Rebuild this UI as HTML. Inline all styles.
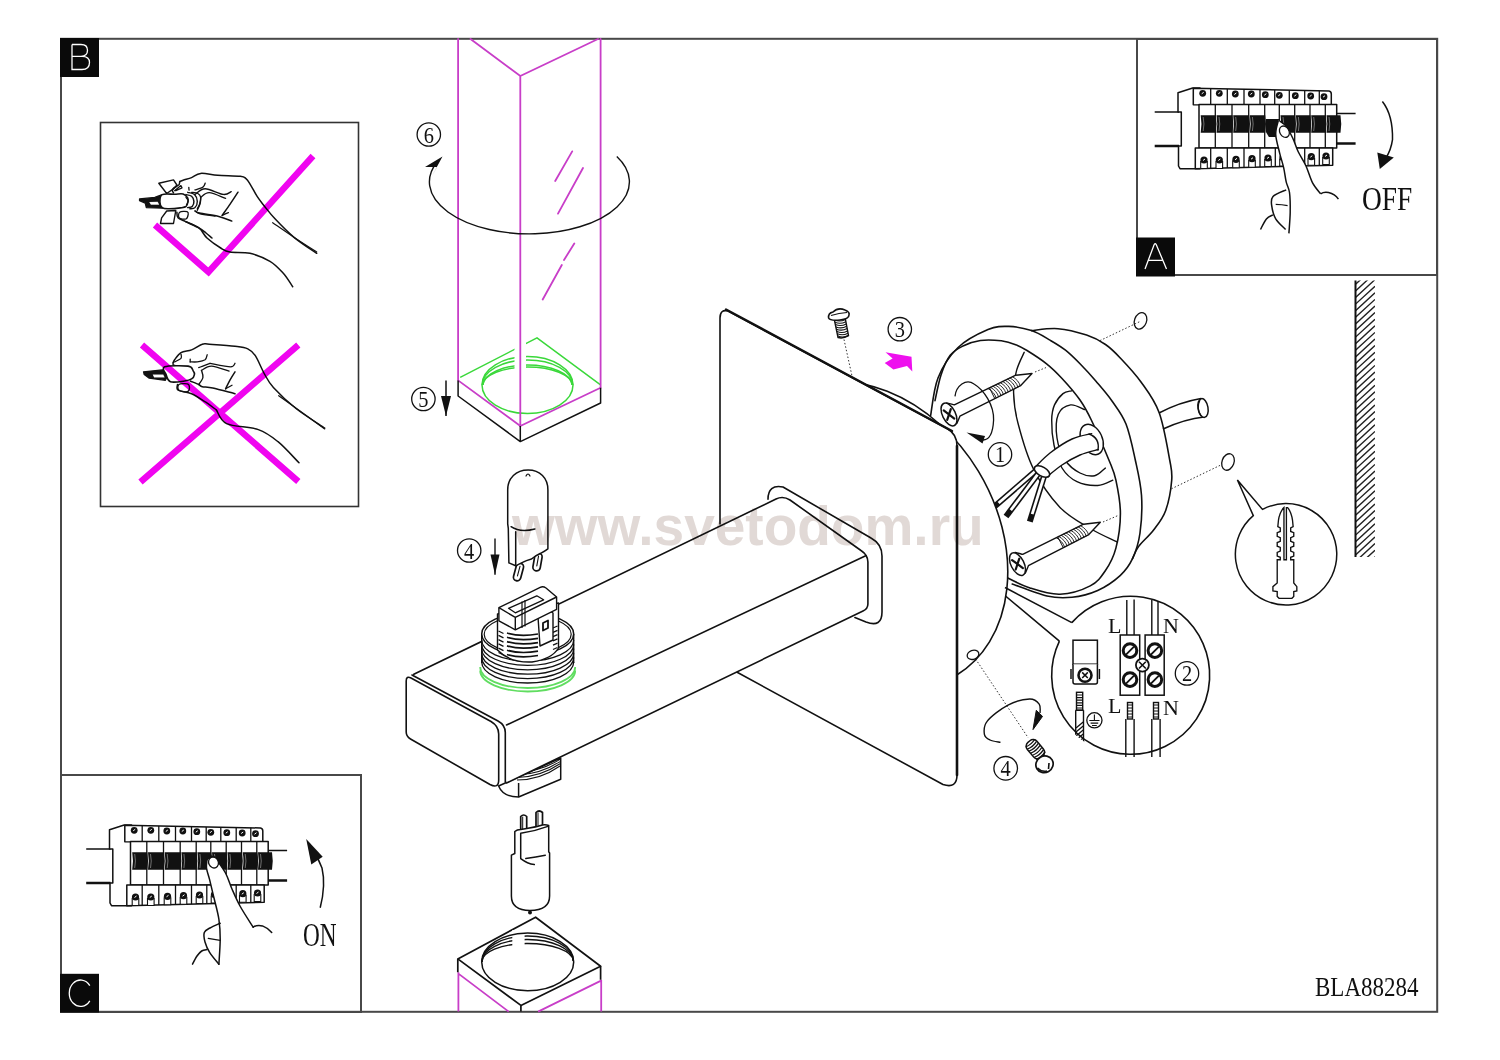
<!DOCTYPE html>
<html><head><meta charset="utf-8">
<style>
html,body{margin:0;padding:0;background:#fff;width:1500px;height:1060px;overflow:hidden}
svg{display:block;position:absolute;left:0;top:0}
text{font-family:"Liberation Serif",serif}
</style></head><body>
<svg width="1500" height="1060" viewBox="0 0 1500 1060">
<g fill="none" stroke="#484848" stroke-linecap="square" stroke-linejoin="miter">
<!-- outer frame -->
<rect x="61" y="38.8" width="1376.2" height="973" stroke-width="2"/>
<!-- box A -->
<rect x="1137" y="39" width="300" height="236" stroke-width="2"/>
<!-- box C -->
<rect x="61" y="775" width="300" height="237" stroke-width="2"/>
<!-- inner check box -->
<rect x="100.5" y="122.5" width="258" height="384" stroke-width="1.6" stroke="#333"/>
</g>

<!-- labels -->
<rect x="60" y="38" width="39" height="39" fill="#0a0a0a"/>
<path d="M72,44.5 V69.5 H82 Q89.5,69.5 89.5,62.5 Q89.5,56.3 82,56.3 H72 M72,44.5 H81 Q87.5,44.5 87.5,50.3 Q87.5,56.3 81,56.3" fill="none" stroke="#fff" stroke-width="1.3"/>
<rect x="1136" y="237.5" width="39" height="39" fill="#0a0a0a"/>
<path d="M1145,269 L1154.2,244.5 Q1155.2,243 1156.2,244.5 L1166.5,269 M1148.6,260.4 H1162.3" fill="none" stroke="#fff" stroke-width="1.3"/>
<rect x="60" y="973.8" width="39" height="38.7" fill="#0a0a0a"/>
<path d="M89.8,985.6 A11.3,13.2 0 1 0 89.8,1000.8" fill="none" stroke="#fff" stroke-width="1.3"/>

<!-- texts -->
<text x="1315" y="996" font-size="27.6" transform="translate(1315,0) scale(0.835,1) translate(-1315,0)" fill="#111">BLA88284</text>
<text x="1362" y="210" font-size="33" transform="translate(1362,0) scale(0.83,1) translate(-1362,0)" fill="#111">OFF</text>
<text x="303" y="946.5" font-size="34.7" transform="translate(303,0) scale(0.67,1) translate(-303,0)" fill="#111">ON</text>




<!-- glass tube top -->
<g fill="none" stroke="#3ad83a" stroke-width="1.5">
<path d="M460.2,377.3 L537,337.9 L600.2,384.6"/>
<ellipse cx="527.5" cy="385" rx="45.5" ry="28.5"/>
<path d="M482.3,385 A45.2,25 0 0 1 572.7,385"/>
<path d="M482.6,385 A45,21.5 0 0 1 572.4,385"/>
<path d="M483,385 A44.5,18 0 0 1 572,385"/>
</g>
<rect x="514.5" y="333" width="11.5" height="40" fill="#fff"/>
<g fill="none" stroke="#c83ec8" stroke-width="1.8" stroke-linecap="round">
<path d="M458.1,39 V380.4 L520.3,426 L600.6,387.7 V39"/>
<path d="M470.5,39 L520.3,76 L598,39 M520.3,76 V426"/>
<path d="M572.2,151.4 L555.2,181 M583,168 L558,213.6 M574.3,243.5 L564,260 M561.8,265 L542.7,299.5"/>
</g>
<g fill="none" stroke="#111" stroke-width="1.8" stroke-linejoin="round">
<path d="M458.1,380.4 V396 L520.3,441.6 L600.6,403 V387.7 M520.3,426 V441.6" stroke-width="1.5"/>
<path d="M616.8,156.6 A100,52 0 1 1 437,162" stroke-width="1.4"/>
</g>
<path d="M442.5,156.6 L425,167 L437,167 L432,176 Z" fill="#111"/>
<path d="M446,380.4 V416" stroke="#111" stroke-width="1.5"/>
<path d="M441,396 L446,416 L451,396 Z" fill="#111"/>
<g fill="none" stroke="#111" stroke-width="1.3">
<circle cx="428.8" cy="134.5" r="11.7"/>
<circle cx="423.4" cy="399" r="11.7"/>
</g>
<text x="0" y="0" font-size="24" text-anchor="middle" fill="#111" transform="translate(428.8,142.5) scale(0.85,1)">6</text>
<text x="0" y="0" font-size="24" text-anchor="middle" fill="#111" transform="translate(423.4,407) scale(0.85,1)">5</text>


<g fill="none" stroke="#111" stroke-width="1.6" stroke-linejoin="round" stroke-linecap="round">
<path d="M930.6,415.7 C931.8,409.4 933.5,389.3 938.0,378.0 C942.5,366.7 949.5,355.9 957.8,347.8 C966.1,339.7 979.5,333.2 988.0,329.6 C996.5,326.0 1001.6,326.2 1008.9,326.4 C1016.1,326.6 1027.7,329.9 1031.5,330.6  C1035.9,330.3 1048.8,327.9 1058.0,328.7 C1067.2,329.4 1078.7,332.5 1086.6,335.1 C1094.5,337.7 1099.9,340.7 1105.5,344.5 C1111.1,348.3 1114.1,351.4 1120.0,357.7 C1125.9,363.9 1134.5,372.9 1141.0,382.0 C1147.5,391.1 1154.3,399.5 1159.1,412.5 C1163.9,425.5 1167.6,448.7 1169.7,460.0 C1171.8,471.3 1172.4,471.8 1171.7,480.2 C1171.0,488.6 1168.7,502.1 1165.7,510.4 C1162.7,518.7 1158.1,524.0 1153.6,530.0 C1149.1,536.0 1142.0,541.8 1138.5,546.6 C1135.0,551.4 1133.5,556.7 1132.5,558.7  C1130.5,561.5 1126.2,570.0 1120.4,575.3 C1114.6,580.6 1105.8,586.8 1097.7,590.4 C1089.6,594.0 1080.5,596.3 1072.0,597.2 C1063.5,598.1 1057.0,598.2 1047.0,596.0 C1037.0,593.8 1018.0,586.0 1012.2,584.0Z" fill="#fff" stroke="none"/>
<path d="M1031.5,330.6 C1035.9,330.3 1048.8,327.9 1058.0,328.7 C1067.2,329.4 1078.7,332.5 1086.6,335.1 C1094.5,337.7 1099.9,340.7 1105.5,344.5 C1111.1,348.3 1114.1,351.4 1120.0,357.7 C1125.9,363.9 1134.5,372.9 1141.0,382.0 C1147.5,391.1 1154.3,399.5 1159.1,412.5 C1163.9,425.5 1167.6,448.7 1169.7,460.0 C1171.8,471.3 1172.4,471.8 1171.7,480.2 C1171.0,488.6 1168.7,502.1 1165.7,510.4 C1162.7,518.7 1158.1,524.0 1153.6,530.0 C1149.1,536.0 1142.0,541.8 1138.5,546.6 C1135.0,551.4 1133.5,556.7 1132.5,558.7" fill="none" stroke-width="1.6"/>
<path d="M930.6,415.7 C931.8,409.4 933.5,389.3 938.0,378.0 C942.5,366.7 949.5,355.9 957.8,347.8 C966.1,339.7 979.5,333.2 988.0,329.6 C996.5,326.0 1001.6,326.2 1008.9,326.4 C1016.1,326.6 1024.6,328.3 1031.5,330.6 C1038.4,332.9 1044.7,337.1 1050.4,340.4 C1056.1,343.7 1060.6,346.3 1065.5,350.2 C1070.4,354.1 1074.9,358.6 1080.0,363.8 C1085.1,369.0 1090.7,375.1 1096.0,381.3 C1101.3,387.5 1107.0,393.9 1112.0,401.0 C1117.0,408.1 1122.1,414.2 1126.0,424.0 C1129.9,433.8 1132.7,448.1 1135.3,460.0 C1137.9,471.9 1140.7,483.1 1141.5,495.3 C1142.3,507.5 1141.5,522.4 1140.0,533.0 C1138.5,543.6 1135.8,551.7 1132.5,558.7 C1129.2,565.8 1126.2,570.0 1120.4,575.3 C1114.6,580.6 1105.8,586.8 1097.7,590.4 C1089.6,594.0 1080.5,596.3 1072.0,597.2 C1063.5,598.1 1057.0,598.2 1047.0,596.0 C1037.0,593.8 1018.0,586.0 1012.2,584.0" fill="none" stroke-width="1.6"/>
<path d="M935.0,400.6 C936.0,396.3 938.5,382.6 941.0,375.0 C943.5,367.4 946.5,360.1 950.2,355.3 C953.9,350.5 958.0,348.5 963.0,346.0 C968.0,343.5 974.0,341.4 980.4,340.5 C986.8,339.6 995.3,340.1 1001.3,340.8 C1007.3,341.5 1012.0,343.2 1016.4,344.9 C1020.8,346.6 1022.8,347.9 1027.8,351.0 C1032.8,354.1 1040.9,359.3 1046.6,363.8 C1052.3,368.3 1056.2,372.2 1061.8,378.2 C1067.4,384.2 1075.1,393.0 1080.0,400.0 C1084.9,407.0 1086.5,410.0 1091.3,420.0 C1096.1,430.0 1104.8,450.0 1108.9,460.0 C1113.0,470.0 1114.0,471.3 1115.9,480.2 C1117.8,489.1 1120.4,502.1 1120.4,513.4 C1120.4,524.7 1118.4,538.5 1115.9,548.1 C1113.4,557.7 1109.6,564.5 1105.3,570.8 C1101.0,577.1 1097.8,582.0 1090.2,585.9 C1082.7,589.8 1070.0,593.9 1060.0,594.2 C1050.0,594.6 1039.3,591.0 1030.0,588.0 C1020.7,585.0 1008.7,578.2 1004.4,576.3" fill="none" stroke-width="1.6"/>
<path d="M1024.2,352.3 C1022.9,355.3 1018.4,363.6 1016.6,370.4 C1014.8,377.2 1013.4,384.2 1013.6,393.0 C1013.8,401.8 1014.7,410.7 1018.0,423.3 C1021.3,435.9 1026.3,454.6 1033.3,468.6 C1040.3,482.6 1050.5,497.4 1060.0,507.4 C1069.5,517.4 1080.6,522.7 1090.2,528.5 C1099.8,534.3 1112.9,539.8 1117.4,542.1" fill="none" stroke-width="1.4"/>
<path d="M1071.5,390.8 C1070.1,391.3 1065.8,391.2 1063.0,393.6 C1060.2,396.0 1056.4,400.5 1054.5,404.9 C1052.6,409.3 1051.8,413.3 1051.7,420.0 C1051.6,426.7 1052.3,437.0 1054.0,445.0 C1055.7,453.0 1058.2,461.9 1062.0,468.0 C1065.8,474.1 1071.0,478.8 1077.0,481.7 C1083.0,484.6 1091.7,485.8 1097.7,485.5 C1103.7,485.2 1110.3,481.1 1112.8,480.2" fill="none" stroke-width="1.4"/>
<path d="M1084.7,409.6 C1082.3,408.8 1075.0,404.1 1070.6,404.9 C1066.2,405.7 1060.6,408.8 1058.3,414.3 C1056.0,419.8 1055.9,430.4 1057.0,438.0 C1058.1,445.6 1061.2,454.2 1065.0,460.0 C1068.8,465.8 1075.0,470.4 1080.0,473.0 C1085.0,475.6 1090.5,476.5 1094.7,475.7 C1098.9,474.9 1103.5,469.4 1105.3,468.1" fill="none" stroke-width="1.4"/>
<ellipse cx="1091.7" cy="439.5" rx="10.5" ry="16" transform="rotate(-25 1091.7 439.5)" stroke-width="1.4" fill="#fff"/>
<path d="M1091.7,433.6 C1088.4,434.5 1079.0,435.8 1072.0,439.0 C1065.0,442.2 1056.1,448.3 1050.0,453.0 C1043.9,457.7 1037.7,464.7 1035.2,467.0 L1048.0,476.0 1062.0,465.0 1080.0,455.0 1098.3,449.5 Z" fill="#fff" stroke="none"/>
<path d="M1091.7,433.6 C1088.4,434.5 1079.0,435.8 1072.0,439.0 C1065.0,442.2 1056.1,448.3 1050.0,453.0 C1043.9,457.7 1037.7,464.7 1035.2,467.0" fill="none" stroke-width="1.4"/>
<path d="M1098.3,449.5 C1095.2,450.4 1086.0,452.4 1080.0,455.0 C1074.0,457.6 1067.3,461.5 1062.0,465.0 C1056.7,468.5 1050.3,474.2 1048.0,476.0" fill="none" stroke-width="1.4"/>
<path d="M1089,434 Q1100,438 1098,450" stroke-width="1.4"/>
</g>
<g stroke="#111" stroke-linecap="butt" fill="none">
<path d="M1038.1,468.8 L992.5,508.2" stroke-width="6"/>
<path d="M1035.8299787718233,470.7613779910123 L998.6,503.0" stroke="#fff" stroke-width="2.8"/>
<path d="M1041.2,469.8 L1006,516.5" stroke-width="6"/>
<path d="M1039.3942596204365,472.1956839694779 L1010.8,510.1" stroke="#fff" stroke-width="2.8"/>
<path d="M1045.4,471.9 L1029.8,521.7" stroke-width="6"/>
<path d="M1044.5032112809533,474.76282552618744 L1032.2,514.1" stroke="#fff" stroke-width="2.8"/>
<ellipse cx="1042" cy="471.5" rx="8.5" ry="4.5" transform="rotate(30 1042 471.5)" fill="#fff" stroke-width="1.6"/>
</g>
<g fill="none" stroke="#111" stroke-linecap="round" stroke-linejoin="round">
<path d="M956.8,423.5 Q959.4,417.5 959.9,416.2 L1020.5,385.7 L1032.0,373.5 L1015.3,375.3 L954.3,404.9 Q952.9,404.4 946.6,402.9" fill="#fff" stroke-width="1.4"/>
<path d="M996.1,397.7 Q994.4,392.1 988.2,388.6" stroke-width="0.9"/>
<path d="M998.5,396.5 Q996.8,390.9 990.7,387.4" stroke-width="0.9"/>
<path d="M1000.9,395.3 Q999.2,389.7 993.1,386.3" stroke-width="0.9"/>
<path d="M1003.3,394.1 Q1001.7,388.5 995.5,385.1" stroke-width="0.9"/>
<path d="M1005.8,392.9 Q1004.1,387.3 997.9,383.9" stroke-width="0.9"/>
<path d="M1008.2,391.7 Q1006.5,386.1 1000.4,382.7" stroke-width="0.9"/>
<path d="M1010.6,390.5 Q1008.9,384.9 1002.8,381.5" stroke-width="0.9"/>
<path d="M1013.0,389.3 Q1011.3,383.7 1005.2,380.3" stroke-width="0.9"/>
<path d="M1015.4,388.1 Q1013.8,382.5 1007.6,379.1" stroke-width="0.9"/>
<path d="M1017.9,387.0 Q1016.2,381.3 1010.0,377.9" stroke-width="0.9"/>
<path d="M1020.3,385.8 Q1018.6,380.1 1012.5,376.7" stroke-width="0.9"/>
<path d="M994.7,398.4 L989.6,388.0" stroke-width="1"/>
<ellipse cx="949.0" cy="414.5" rx="6.5" ry="12.3" transform="rotate(-26.3 949.0 414.5)" fill="#fff" stroke-width="1.5"/>
<path d="M943.7,410.4 L954.3,418.6 M947.2,419.9 L950.8,409.1" stroke-width="2.2"/>
<path d="M1025.4,573.0 Q1027.9,567.0 1028.4,565.7 L1088.8,534.6 L1100.3,522.3 L1083.6,524.2 L1022.7,554.4 Q1021.4,554.0 1015.0,552.5" fill="#fff" stroke-width="1.4"/>
<path d="M1064.5,546.9 Q1062.8,541.2 1056.6,537.9" stroke-width="0.9"/>
<path d="M1066.9,545.6 Q1065.2,540.0 1059.0,536.6" stroke-width="0.9"/>
<path d="M1069.3,544.4 Q1067.6,538.8 1061.4,535.4" stroke-width="0.9"/>
<path d="M1071.7,543.2 Q1070.0,537.6 1063.8,534.2" stroke-width="0.9"/>
<path d="M1074.1,542.0 Q1072.4,536.4 1066.2,533.0" stroke-width="0.9"/>
<path d="M1076.6,540.8 Q1074.8,535.2 1068.7,531.8" stroke-width="0.9"/>
<path d="M1079.0,539.6 Q1077.2,533.9 1071.1,530.6" stroke-width="0.9"/>
<path d="M1081.4,538.3 Q1079.7,532.7 1073.5,529.3" stroke-width="0.9"/>
<path d="M1083.8,537.1 Q1082.1,531.5 1075.9,528.1" stroke-width="0.9"/>
<path d="M1086.2,535.9 Q1084.5,530.3 1078.3,526.9" stroke-width="0.9"/>
<path d="M1088.6,534.7 Q1086.9,529.1 1080.7,525.7" stroke-width="0.9"/>
<path d="M1063.2,547.5 L1057.9,537.2" stroke-width="1"/>
<ellipse cx="1017.5" cy="564.1" rx="6.5" ry="12.3" transform="rotate(-26.8 1017.5 564.1)" fill="#fff" stroke-width="1.5"/>
<path d="M1012.1,560.1 L1022.9,568.1 M1015.7,569.5 L1019.3,558.7" stroke-width="2.2"/>
</g>
<g fill="none" stroke="#333" stroke-width="1" stroke-dasharray="1.5 2">
<path d="M1035,372 L1046,367.6 M1103,522 L1117.4,515.8 M1100,340.6 L1139.6,321.7 M1171.4,488.8 L1220,465.4 M975.6,659 L1028.2,737.8 M844,339.5 L852,376"/>
</g>
<g fill="none" stroke="#111" stroke-width="1.3">
<ellipse cx="1140.5" cy="320.8" rx="6" ry="8.5" transform="rotate(20 1140.5 320.8)"/>
<ellipse cx="1228" cy="462" rx="6" ry="8.5" transform="rotate(20 1228 462)"/>
</g>
<g fill="#fff" stroke="#111" stroke-width="1.5" stroke-linejoin="round">
<path d="M498.6,786 Q503,797 518.6,797 L560.7,779.3 V758 L498.6,786 Z"/>
<path d="M518.6,783 V797" fill="none"/>
<path d="M517.0,780.0 Q540.0,780.0 560.0,766.0" fill="none" stroke-width="1.1"/>
<path d="M517.0,777.5 Q540.0,777.2 560.0,763.8" fill="none" stroke-width="1.1"/>
<path d="M517.0,775.0 Q540.0,774.4 560.0,761.6" fill="none" stroke-width="1.1"/>
<path d="M517.0,772.5 Q540.0,771.6 560.0,759.4" fill="none" stroke-width="1.1"/>
<path d="M517.0,770.0 Q540.0,768.8 560.0,757.2" fill="none" stroke-width="1.1"/>
<path d="M517.0,767.5 Q540.0,766.0 560.0,755.0" fill="none" stroke-width="1.1"/>
</g>
<g fill="none" stroke="#111" stroke-width="1.6" stroke-linejoin="round" stroke-linecap="round">
<ellipse cx="871.5" cy="535.8" rx="163.3" ry="124.9" transform="rotate(58.8 871.5 535.8)" fill="#fff"/>
<ellipse cx="973" cy="654.8" rx="6" ry="4.5" transform="rotate(-20 973 654.8)" stroke-width="1.3"/>
<path d="M720,524 V318 Q720,309 728,311 L947,428.5 Q957,434 957,446 V775 Q957,789 943,784.5 L735.3,671.3" fill="#fff"/>
<path d="M726,309.5 L952,431" stroke-width="2.4"/>
<path d="M957,446 V775" stroke-width="2.6"/>
<path d="M768,499.3 Q768,484 783,487 L871,538 Q882,544 882,556 V612 Q882,628 866,622 L854.9,617.5" fill="#fff"/>
<path d="M413.8,674.3 L776,499 Q783,495.5 790,500 L861,550.5 Q867.9,555 867.9,562 V604 Q867.9,608.8 863,611 L506.5,783 V725 Z" fill="#fff" stroke="none"/>
<path d="M413.8,674.3 L776,499 Q783,495.5 790,500 L861,550.5 Q867.9,555 867.9,562 V604 Q867.9,608.8 863,611 L506.5,783"/>
<path d="M506.5,725 L865.7,555.7"/>
<path d="M406.2,681 Q406.2,675.5 411,678 L491,721.5 Q498.7,726 498.7,734 V780 Q498.7,789 490,784.5 L410.5,739 Q406.2,736.5 406.2,732 Z" fill="#fff"/>
<path d="M412,675 L498,721 Q505.3,725 505.3,732.5 V782" />
</g>
<circle cx="899.8" cy="329.2" r="11.7" fill="none" stroke="#111" stroke-width="1.3"/><text x="0" y="0" font-size="24" text-anchor="middle" fill="#111" transform="translate(899.8,337.2) scale(0.85,1)">3</text>
<circle cx="1000.0" cy="454.4" r="11.7" fill="none" stroke="#111" stroke-width="1.3"/><text x="0" y="0" font-size="24" text-anchor="middle" fill="#111" transform="translate(1000.0,462.4) scale(0.85,1)">1</text>
<path d="M885.5,352.2 L911.5,356.7 L912.3,371.4 L907,366.1 L893.4,369.5 L884.7,363.1 L892.6,358.6 Z" fill="#ee10ee"/>
<g fill="#fff" stroke="#111" stroke-width="1.6">
<path d="M834,318 L838,337.5 Q843,339 848.5,335.6 L845,317 Z" stroke-width="1.4"/>
<path d="M834.5,320.0 Q840.0,322.2 845.4,319.4" fill="none" stroke-width="1.1"/>
<path d="M835.0,322.3 Q840.5,324.5 845.8,321.7" fill="none" stroke-width="1.1"/>
<path d="M835.5,324.6 Q840.9,326.8 846.2,324.0" fill="none" stroke-width="1.1"/>
<path d="M836.0,326.9 Q841.4,329.1 846.7,326.3" fill="none" stroke-width="1.1"/>
<path d="M836.5,329.2 Q841.8,331.4 847.1,328.6" fill="none" stroke-width="1.1"/>
<path d="M837.0,331.5 Q842.2,333.7 847.5,330.9" fill="none" stroke-width="1.1"/>
<path d="M837.5,333.8 Q842.7,336.0 847.9,333.2" fill="none" stroke-width="1.1"/>
<path d="M838.0,336.1 Q843.1,338.3 848.3,335.5" fill="none" stroke-width="1.1"/>
<path d="M828.6,318 Q828,313 833,312 Q838,307 845,310 Q850,312 849,315 Q849,319 840,320 Q830,321 828.6,318 Z"/>
<path d="M831,315.5 Q839,313 847,312.5" fill="none" stroke-width="1.1"/>
</g>
<g fill="none" stroke="#111" stroke-width="1.5">
<path d="M1159,413 Q1180,402 1201,398.5 M1163,429 Q1185,419 1204,417" />
<ellipse cx="1203" cy="408" rx="5" ry="9.5" transform="rotate(-10 1203 408)" fill="#fff"/>
<path d="M1200,400 Q1196,408 1201,416" fill="none" stroke-width="1.2"/>
</g>
<path d="M955,396.4 C956,386 966,378 974,384 C984,390 994,405 993.6,420 C993,432 990,440 983,440" fill="none" stroke="#111" stroke-width="1.3"/>
<path d="M966.5,432.5 L985,436 L982.5,443.5 Z" fill="#111"/>
<g fill="none" stroke="#111" stroke-width="1.6">
<path d="M1071.8,622.6 A79,79 0 1 1 1059.4,641.2" fill="#fff"/>
<path d="M1005,587.5 L1071.8,622.6 M1005.5,596 L1059.4,641.2" />
<path d="M1126.8,600 V635 M1134.1,599.5 V635 M1151.8,600 V635 M1158,601 V635" stroke-width="1.4"/>
<rect x="1120.2" y="635" width="19.5" height="60.2" fill="#fff" stroke-width="1.5"/>
<rect x="1145.1" y="635" width="19.1" height="60.2" fill="#fff" stroke-width="1.5"/>
<circle cx="1130" cy="650.6" r="6.8" stroke-width="3" fill="#fff"/>
<path d="M1126.0,654.6 L1134.0,646.6" stroke-width="1.8"/>
<circle cx="1154.9" cy="650.6" r="6.8" stroke-width="3" fill="#fff"/>
<path d="M1150.9,654.6 L1158.9,646.6" stroke-width="1.8"/>
<circle cx="1130" cy="679.6" r="6.8" stroke-width="3" fill="#fff"/>
<path d="M1126.0,683.6 L1134.0,675.6" stroke-width="1.8"/>
<circle cx="1154.9" cy="679.6" r="6.8" stroke-width="3" fill="#fff"/>
<path d="M1150.9,683.6 L1158.9,675.6" stroke-width="1.8"/>
<circle cx="1142.4" cy="665.1" r="6.5" stroke-width="1.8" fill="#fff"/>
<path d="M1139,661.7 L1145.8,668.5 M1145.8,661.7 L1139,668.5" stroke-width="1.6"/>
<rect x="1073" y="640.2" width="24.4" height="24" fill="#fff" stroke-width="1.5"/>
<path d="M1073,664.2 V682 Q1073,684 1075,684 H1095.4 Q1097.4,684 1097.4,682 V664.2" fill="#fff" stroke-width="1.5"/>
<path d="M1071,669 V679 M1099.4,669 V679" stroke-width="1.5"/>
<circle cx="1085" cy="675.2" r="6.5" stroke-width="2.6"/>
<path d="M1082.2,672.4 L1087.8,678 M1087.8,672.4 L1082.2,678" stroke-width="1.5"/>
<defs><clipPath id="tclip"><circle cx="1129" cy="678" r="78"/></clipPath></defs>
<g clip-path="url(#tclip)">
<rect x="1076.5" y="692.3" width="6.2" height="18" stroke-width="1.4" fill="#fff"/>
<path d="M1076.8,695.0 H1082.4" stroke-width="1.2"/>
<path d="M1076.8,697.6 H1082.4" stroke-width="1.2"/>
<path d="M1076.8,700.2 H1082.4" stroke-width="1.2"/>
<path d="M1076.8,702.8 H1082.4" stroke-width="1.2"/>
<path d="M1076.8,705.4 H1082.4" stroke-width="1.2"/>
<path d="M1076.8,708.0 H1082.4" stroke-width="1.2"/>
<path d="M1075.7,710.2 V760 M1083.5,710.2 V760 M1075.7,710.2 H1083.5" stroke-width="1.4"/>
<path d="M1076,728.0 L1083.2,722.0" stroke-width="1.3"/>
<path d="M1076,732.0 L1083.2,726.0" stroke-width="1.3"/>
<path d="M1076,736.0 L1083.2,730.0" stroke-width="1.3"/>
<path d="M1076,740.0 L1083.2,734.0" stroke-width="1.3"/>
<path d="M1076,744.0 L1083.2,738.0" stroke-width="1.3"/>
<path d="M1076,748.0 L1083.2,742.0" stroke-width="1.3"/>
</g>
<circle cx="1094.4" cy="720.3" r="7.6" stroke-width="1.3"/>
<path d="M1094.4,714.5 V720.5 M1089.3,720.5 H1099.5 M1090.6,723.1 H1098.2 M1092,725.5 H1096.8" stroke-width="1.1"/>
<path d="M1125.8,719 V757 M1134.1,719 V757" stroke-width="1.4"/>
<rect x="1127.5" y="702.5" width="5" height="16.5" fill="#fff" stroke-width="1.4"/>
<path d="M1127.5,705.0 h5" stroke-width="1"/>
<path d="M1127.5,708.0 h5" stroke-width="1"/>
<path d="M1127.5,711.0 h5" stroke-width="1"/>
<path d="M1127.5,714.0 h5" stroke-width="1"/>
<path d="M1127.5,717.0 h5" stroke-width="1"/>
<path d="M1151.8,719 V757 M1160.1,719 V757" stroke-width="1.4"/>
<rect x="1153.5" y="702.5" width="5" height="16.5" fill="#fff" stroke-width="1.4"/>
<path d="M1153.5,705.0 h5" stroke-width="1"/>
<path d="M1153.5,708.0 h5" stroke-width="1"/>
<path d="M1153.5,711.0 h5" stroke-width="1"/>
<path d="M1153.5,714.0 h5" stroke-width="1"/>
<path d="M1153.5,717.0 h5" stroke-width="1"/>
</g>
<g fill="#111" font-size="22">
<text x="1108" y="633">L</text><text x="1163" y="633">N</text><text x="1108" y="713">L</text><text x="1163" y="715">N</text>
</g>
<circle cx="1187.0" cy="673.4" r="11.7" fill="none" stroke="#111" stroke-width="1.3"/><text x="0" y="0" font-size="24" text-anchor="middle" fill="#111" transform="translate(1187.0,681.4) scale(0.85,1)">2</text>
<path d="M1000.5,742.4 C998.8,742.0 992.7,741.4 990.0,740.0 C987.3,738.6 984.9,737.4 984.4,734.3 C983.9,731.1 983.4,726.0 987.3,721.1 C991.2,716.2 1000.9,708.8 1008.0,705.1 C1015.1,701.4 1024.5,699.1 1029.7,699.0 C1034.9,698.9 1037.5,701.9 1039.2,704.2 C1040.9,706.5 1039.9,711.5 1040.1,713.0" fill="none" stroke="#111" stroke-width="1.4"/>
<path d="M1036.3,710.3 L1042.5,716.4 L1033,729.6 Z" fill="#111" stroke="#111" stroke-width="1"/>
<circle cx="1005.7" cy="768.3" r="11.8" fill="none" stroke="#111" stroke-width="1.3"/><text x="0" y="0" font-size="24" text-anchor="middle" fill="#111" transform="translate(1005.7,776.3) scale(0.85,1)">4</text>
<g fill="#fff" stroke="#111" stroke-width="1.5">
<g transform="translate(1036,750) rotate(50)">
<rect x="-11" y="-6.3" width="20" height="12.6" rx="5" ry="5"/>
<path d="M-9.0,-6 Q-7.0,0 -9.0,6" fill="none" stroke-width="1.3"/>
<path d="M-6.3,-6 Q-4.3,0 -6.3,6" fill="none" stroke-width="1.3"/>
<path d="M-3.6,-6 Q-1.6,0 -3.6,6" fill="none" stroke-width="1.3"/>
<path d="M-0.9,-6 Q1.1,0 -0.9,6" fill="none" stroke-width="1.3"/>
<path d="M1.8,-6 Q3.8,0 1.8,6" fill="none" stroke-width="1.3"/>
<path d="M4.5,-6 Q6.5,0 4.5,6" fill="none" stroke-width="1.3"/>
<path d="M7.2,-6 Q9.2,0 7.2,6" fill="none" stroke-width="1.3"/>
</g>
<ellipse cx="1044.5" cy="764.3" rx="8.8" ry="8.2" transform="rotate(-30 1044.5 764.3)" stroke-width="1.7"/>
<path d="M1037.5,768 Q1041,772 1047,771 M1049,763 L1048.5,769" fill="none" stroke-width="1.6"/>
</g>
<g fill="none" stroke="#111" stroke-width="1.5">
<path d="M1262.5,509.4 A50.7,50.7 0 1 1 1253.3,515.6 L1237.4,480 Z" fill="#fff"/>
<path transform="translate(1230,480) scale(0.12262)" stroke-width="11" d="M440,225 Q405,260 395,330 L390,380 L410,390 V420 L385,430 V460 L410,470 V500 L385,510 V540 L410,550 V580 L385,590 V620 L410,630 V650 H385 V840 L350,870 V905 L385,910 V950 L400,965 H505 L520,950 V910 L545,905 V870 L520,840 V650 H495 V630 L520,620 V590 L495,580 V550 L520,540 V510 L495,500 V470 L520,460 V430 L495,420 V390 L515,380 L510,330 Q500,260 470,225 L460,225 V650 H440 Z"/>
</g>
<defs><clipPath id="wallclip"><rect x="1355" y="280.6" width="20" height="276.4"/></clipPath></defs>
<path d="M1355,278.2 L1375,259.8 M1355,284.8 L1375,266.4 M1355,291.4 L1375,273.0 M1355,298.0 L1375,279.6 M1355,304.6 L1375,286.2 M1355,311.2 L1375,292.8 M1355,317.8 L1375,299.4 M1355,324.4 L1375,306.0 M1355,331.0 L1375,312.6 M1355,337.6 L1375,319.2 M1355,344.2 L1375,325.8 M1355,350.8 L1375,332.4 M1355,357.4 L1375,339.0 M1355,364.0 L1375,345.6 M1355,370.6 L1375,352.2 M1355,377.2 L1375,358.8 M1355,383.8 L1375,365.4 M1355,390.4 L1375,372.0 M1355,397.0 L1375,378.6 M1355,403.6 L1375,385.2 M1355,410.2 L1375,391.8 M1355,416.8 L1375,398.4 M1355,423.4 L1375,405.0 M1355,430.0 L1375,411.6 M1355,436.6 L1375,418.2 M1355,443.2 L1375,424.8 M1355,449.8 L1375,431.4 M1355,456.4 L1375,438.0 M1355,463.0 L1375,444.6 M1355,469.6 L1375,451.2 M1355,476.2 L1375,457.8 M1355,482.8 L1375,464.4 M1355,489.4 L1375,471.0 M1355,496.0 L1375,477.6 M1355,502.6 L1375,484.2 M1355,509.2 L1375,490.8 M1355,515.8 L1375,497.4 M1355,522.4 L1375,504.0 M1355,529.0 L1375,510.6 M1355,535.6 L1375,517.2 M1355,542.2 L1375,523.8 M1355,548.8 L1375,530.4 M1355,555.4 L1375,537.0 M1355,562.0 L1375,543.6 M1355,568.6 L1375,550.2 M1355,575.2 L1375,556.8" stroke="#222" stroke-width="1.4" clip-path="url(#wallclip)"/>
<path d="M1355.5,280.6 V557" stroke="#111" stroke-width="2"/>
<g fill="#fff" stroke="#111" stroke-width="1.5" stroke-linejoin="round" stroke-linecap="round">
<rect x="514.8" y="563" width="7.4" height="18" rx="3.7" ry="3.7" transform="rotate(15 518.5 572)" stroke-width="1.7"/>
<path d="M518.5,566 V576" transform="rotate(15 518.5 572)" fill="none" stroke-width="1.1"/>
<rect x="533.8" y="553" width="7.4" height="18" rx="3.7" ry="3.7" transform="rotate(10 537.5 562)" stroke-width="1.7"/>
<path d="M537.5,556 V566" transform="rotate(10 537.5 562)" fill="none" stroke-width="1.1"/>
<path d="M508.3,528.4 L507.7,523.9 V489.9 C507.7,478 516,470.1 528.1,470.1 C540,470.1 547.9,478 547.9,489.9 V548.8 Q545,551 540.6,553.3 Q535,556 531.5,559 Q526,560.5 522.5,562.4 Q519,564 515.7,565.8 L508.9,562.9 Z"/>
<path d="M511.1,526.7 Q520.2,532.9 534.9,529 M515.7,531.8 V565.8" fill="none"/>
<path d="M526,476 Q528,472 530,476" fill="none" stroke-width="1.2"/>
<path d="M520.7,830 V816.5 Q523.6,813.5 526.7,816.5 V828" stroke-width="1.7"/>
<path d="M522.7,817 V829" fill="none" stroke-width="1"/>
<path d="M536,826 V812.5 Q539.2,809.5 542.5,812.5 V825" stroke-width="1.7"/>
<path d="M538,813 V825" fill="none" stroke-width="1"/>
<path d="M514.8,853.5 V831.5 Q517,829.5 520.7,829.5 L526.7,828.5 Q536,827 542.5,825 Q546,824.5 548.7,825.5 V851.8 L549.6,853 V896 Q549.6,910.4 530,910.4 Q511.4,910.4 511.4,896 V855.2 Z"/>
<path d="M520.7,833.2 Q534.3,831.5 547.9,826.4 M520.7,833.2 V858.6 M525.8,858.6 Q536,856.9 545.3,855.2 M520.7,858.6 Q527.5,863.7 534.3,864.6" fill="none"/>
<circle cx="530" cy="912.5" r="2" fill="#111" stroke="none"/>
</g>
<circle cx="469.2" cy="550.5" r="11.7" fill="none" stroke="#111" stroke-width="1.3"/><text x="0" y="0" font-size="24" text-anchor="middle" fill="#111" transform="translate(469.2,558.5) scale(0.85,1)">4</text>
<path d="M495,538.6 V574.8" stroke="#111" stroke-width="1.4"/><path d="M490.5,554.4 L495,574.8 L499.5,554.4 Z" fill="#111"/>
<g fill="#fff" stroke="#111" stroke-width="1.4" stroke-linejoin="round">
<path d="M480.2,670.5 A47.5,21.0 0 0 0 575.2,670.5" fill="none" stroke="#60dd60" stroke-width="1.8"/>
<path d="M480.2,667.0 A47.5,21.0 0 0 0 575.2,667.0" fill="none" stroke="#60dd60" stroke-width="1.8"/>
<path d="M481.7,634 V663 A46.0,21.0 0 0 0 573.7,663 V634 Z" stroke="none"/>
<path d="M481.7,634 V663 M573.7,634 V663" fill="none"/>
<path d="M481.7,640.0 A46.0,21.0 0 0 0 573.7,640.0" fill="none" stroke-width="1.3"/>
<path d="M481.7,644.4 A46.0,21.0 0 0 0 573.7,644.4" fill="none" stroke-width="1.3"/>
<path d="M481.7,648.8 A46.0,21.0 0 0 0 573.7,648.8" fill="none" stroke-width="1.3"/>
<path d="M481.7,653.2 A46.0,21.0 0 0 0 573.7,653.2" fill="none" stroke-width="1.3"/>
<path d="M481.7,657.6 A46.0,21.0 0 0 0 573.7,657.6" fill="none" stroke-width="1.3"/>
<path d="M481.7,662.0 A46.0,21.0 0 0 0 573.7,662.0" fill="none" stroke-width="1.3"/>
<ellipse cx="527.7" cy="634" rx="46.0" ry="21.0" stroke-width="1.5"/>
<ellipse cx="527.7" cy="634.3" rx="43.5" ry="18.8" fill="none" stroke-width="1.2"/>
<path d="M497.5,614 V650 Q510,663 532,662 Q552,659 558.5,648 V603 Z" />
<path d="M507,633.0 Q520,637.0 538,634.0" fill="none" stroke-width="1.7"/>
<path d="M498.5,631.0 l5,2.5 M553,628.0 l4.5,-2" fill="none" stroke-width="1.3"/>
<path d="M507,637.3 Q520,641.3 538,638.3" fill="none" stroke-width="1.7"/>
<path d="M498.5,635.3 l5,2.5 M553,632.3 l4.5,-2" fill="none" stroke-width="1.3"/>
<path d="M507,641.6 Q520,645.6 538,642.6" fill="none" stroke-width="1.7"/>
<path d="M498.5,639.6 l5,2.5 M553,636.6 l4.5,-2" fill="none" stroke-width="1.3"/>
<path d="M507,645.9 Q520,649.9 538,646.9" fill="none" stroke-width="1.7"/>
<path d="M498.5,643.9 l5,2.5 M553,640.9 l4.5,-2" fill="none" stroke-width="1.3"/>
<path d="M507,650.2 Q520,654.2 538,651.2" fill="none" stroke-width="1.7"/>
<path d="M498.5,648.2 l5,2.5 M553,645.2 l4.5,-2" fill="none" stroke-width="1.3"/>
<path d="M507,654.5 Q520,658.5 538,655.5" fill="none" stroke-width="1.7"/>
<path d="M498.5,652.5 l5,2.5 M553,649.5 l4.5,-2" fill="none" stroke-width="1.3"/>
<path d="M538,617 L550,611 L553,613 V640 L540,646 Z"/>
<rect x="542" y="620" width="6" height="9" transform="skewY(-25)" fill="none" stroke="none"/>
<path d="M543,623 L548,620.5 V628 L543,630.5 Z" fill="none" stroke-width="1.8"/>
<path d="M498.9,607.7 L540.2,587.4 Q543,586 546,588 L556.6,597 L556.6,609.4 L515.3,629.8 L498.9,620.8 Z"/>
<path d="M498.9,607.7 L515.3,617.4 L556.6,597 M515.3,617.4 V629.8" fill="none"/>
<path d="M508.5,608.3 L536.8,595.8 L543.6,599.8 L515.3,612.8 Z" fill="none" stroke-width="1.3"/>
<path d="M522,601.5 V628 M525,600 V626.5" fill="none" stroke-width="1.2"/>
</g>
<g fill="#fff" stroke="#111" stroke-width="1.5" stroke-linejoin="round">
<path d="M1154.7,112 H1179 M1336,113.5 H1355.6" fill="none" stroke-width="1.4"/>
<path d="M1154.7,146 H1179 M1336,143.5 H1355.6" fill="none" stroke-width="2.4"/>
<path d="M1180,168.7 L1178.5,166 V146 L1181.3,146 V112 L1178,112 V92.7 L1192.7,88 H1200 V168.7 Z"/>
<path d="M1193.3,104.7 V88.3 L1329,91 Q1331.3,91.5 1331.3,94 V105.3 Z"/>
<path d="M1210.7,88.6 V105 M1227.3,89.0 V105 M1244.0,89.3 V105 M1260.0,89.6 V105 M1274.7,89.9 V105 M1289.3,90.2 V105 M1304.7,90.5 V105 M1319.3,90.8 V105" fill="none" stroke-width="1.3"/>
<circle cx="1202.7" cy="93.3" r="3.4" fill="#111" stroke="none"/><path d="M1201.7,93.8 l2,-1.5" stroke="#fff" stroke-width="1" fill="none"/>
<circle cx="1219.3" cy="93.3" r="3.4" fill="#111" stroke="none"/><path d="M1218.3,93.8 l2,-1.5" stroke="#fff" stroke-width="1" fill="none"/>
<circle cx="1235.3" cy="94.0" r="3.4" fill="#111" stroke="none"/><path d="M1234.3,94.5 l2,-1.5" stroke="#fff" stroke-width="1" fill="none"/>
<circle cx="1251.3" cy="94.0" r="3.4" fill="#111" stroke="none"/><path d="M1250.3,94.5 l2,-1.5" stroke="#fff" stroke-width="1" fill="none"/>
<circle cx="1265.3" cy="94.7" r="3.4" fill="#111" stroke="none"/><path d="M1264.3,95.2 l2,-1.5" stroke="#fff" stroke-width="1" fill="none"/>
<circle cx="1279.3" cy="95.3" r="3.4" fill="#111" stroke="none"/><path d="M1278.3,95.8 l2,-1.5" stroke="#fff" stroke-width="1" fill="none"/>
<circle cx="1295.3" cy="95.7" r="3.4" fill="#111" stroke="none"/><path d="M1294.3,96.2 l2,-1.5" stroke="#fff" stroke-width="1" fill="none"/>
<circle cx="1310.7" cy="96.0" r="3.4" fill="#111" stroke="none"/><path d="M1309.7,96.5 l2,-1.5" stroke="#fff" stroke-width="1" fill="none"/>
<circle cx="1324.0" cy="96.7" r="3.4" fill="#111" stroke="none"/><path d="M1323.0,97.2 l2,-1.5" stroke="#fff" stroke-width="1" fill="none"/>
<rect x="1199" y="104.5" width="137.7" height="43.5"/>
<path d="M1215.3,104.7 V148 M1232.0,104.7 V148 M1248.7,104.7 V148 M1264.7,104.7 V148 M1279.3,104.7 V148 M1294.7,104.7 V148 M1310.0,104.7 V148 M1325.3,104.7 V148" fill="none" stroke-width="1.3"/>
<path d="M1200.7,115.3 H1215.8 Q1217.3,124 1215.8,132.7 H1200.7 Q1202.2,124 1200.7,115.3 Z" fill="#111" stroke="none"/>
<path d="M1203.2,117 Q1204.7,124 1203.2,131" stroke="#888" stroke-width="0.8" fill="none"/>
<path d="M1216.5,115.3 H1232.5 Q1234.0,124 1232.5,132.7 H1216.5 Q1218.0,124 1216.5,115.3 Z" fill="#111" stroke="none"/>
<path d="M1219.0,117 Q1220.5,124 1219.0,131" stroke="#888" stroke-width="0.8" fill="none"/>
<path d="M1233.2,115.3 H1249.2 Q1250.7,124 1249.2,132.7 H1233.2 Q1234.7,124 1233.2,115.3 Z" fill="#111" stroke="none"/>
<path d="M1235.7,117 Q1237.2,124 1235.7,131" stroke="#888" stroke-width="0.8" fill="none"/>
<path d="M1249.9,115.3 H1265.2 Q1266.7,124 1265.2,132.7 H1249.9 Q1251.4,124 1249.9,115.3 Z" fill="#111" stroke="none"/>
<path d="M1252.4,117 Q1253.9,124 1252.4,131" stroke="#888" stroke-width="0.8" fill="none"/>
<path d="M1265.9,119 H1279.8 V132 L1276.8,137 H1268.9 L1265.9,132 Z" fill="#111" stroke="none"/>
<path d="M1280.5,115.3 H1295.2 Q1296.7,124 1295.2,132.7 H1280.5 Q1282.0,124 1280.5,115.3 Z" fill="#111" stroke="none"/>
<path d="M1283.0,117 Q1284.5,124 1283.0,131" stroke="#888" stroke-width="0.8" fill="none"/>
<path d="M1295.9,115.3 H1310.5 Q1312.0,124 1310.5,132.7 H1295.9 Q1297.4,124 1295.9,115.3 Z" fill="#111" stroke="none"/>
<path d="M1298.4,117 Q1299.9,124 1298.4,131" stroke="#888" stroke-width="0.8" fill="none"/>
<path d="M1311.2,115.3 H1325.8 Q1327.3,124 1325.8,132.7 H1311.2 Q1312.7,124 1311.2,115.3 Z" fill="#111" stroke="none"/>
<path d="M1313.7,117 Q1315.2,124 1313.7,131" stroke="#888" stroke-width="0.8" fill="none"/>
<path d="M1326.5,115.3 H1340.5 Q1342.0,124 1340.5,132.7 H1326.5 Q1328.0,124 1326.5,115.3 Z" fill="#111" stroke="none"/>
<path d="M1329.0,117 Q1330.5,124 1329.0,131" stroke="#888" stroke-width="0.8" fill="none"/>
<path d="M1195.3,148 V168.7 L1332.7,165.3 V148 Z"/>
<path d="M1210.7,148 V168.3 M1227.3,148 V167.9 M1244.0,148 V167.5 M1260.0,148 V167.1 M1275.3,148 V166.7 M1290.0,148 V166.4 M1304.7,148 V166.0 M1319.3,148 V165.6" fill="none" stroke-width="1.3"/>
<path d="M1200.7,161.0 V168.5 H1207.3 V161.0" fill="#fff" stroke-width="1.1"/>
<circle cx="1204.0" cy="160.0" r="3.6" fill="#111" stroke="none"/><path d="M1203.0,160.5 l2,-1.5" stroke="#fff" stroke-width="1" fill="none"/>
<path d="M1216.0,161.0 V168.5 H1222.6 V161.0" fill="#fff" stroke-width="1.1"/>
<circle cx="1219.3" cy="160.0" r="3.6" fill="#111" stroke="none"/><path d="M1218.3,160.5 l2,-1.5" stroke="#fff" stroke-width="1" fill="none"/>
<path d="M1232.7,160.3 V167.8 H1239.3 V160.3" fill="#fff" stroke-width="1.1"/>
<circle cx="1236.0" cy="159.3" r="3.6" fill="#111" stroke="none"/><path d="M1235.0,159.8 l2,-1.5" stroke="#fff" stroke-width="1" fill="none"/>
<path d="M1248.7,159.7 V167.2 H1255.3 V159.7" fill="#fff" stroke-width="1.1"/>
<circle cx="1252.0" cy="158.7" r="3.6" fill="#111" stroke="none"/><path d="M1251.0,159.2 l2,-1.5" stroke="#fff" stroke-width="1" fill="none"/>
<path d="M1264.7,159.0 V166.5 H1271.3 V159.0" fill="#fff" stroke-width="1.1"/>
<circle cx="1268.0" cy="158.0" r="3.6" fill="#111" stroke="none"/><path d="M1267.0,158.5 l2,-1.5" stroke="#fff" stroke-width="1" fill="none"/>
<path d="M1279.7,158.5 V166.0 H1286.3 V158.5" fill="#fff" stroke-width="1.1"/>
<circle cx="1283.0" cy="157.5" r="3.6" fill="#111" stroke="none"/><path d="M1282.0,158.0 l2,-1.5" stroke="#fff" stroke-width="1" fill="none"/>
<path d="M1293.7,158.0 V165.5 H1300.3 V158.0" fill="#fff" stroke-width="1.1"/>
<circle cx="1297.0" cy="157.0" r="3.6" fill="#111" stroke="none"/><path d="M1296.0,157.5 l2,-1.5" stroke="#fff" stroke-width="1" fill="none"/>
<path d="M1308.0,157.7 V165.2 H1314.6 V157.7" fill="#fff" stroke-width="1.1"/>
<circle cx="1311.3" cy="156.7" r="3.6" fill="#111" stroke="none"/><path d="M1310.3,157.2 l2,-1.5" stroke="#fff" stroke-width="1" fill="none"/>
<path d="M1322.7,157.0 V164.5 H1329.3 V157.0" fill="#fff" stroke-width="1.1"/>
<circle cx="1326.0" cy="156.0" r="3.6" fill="#111" stroke="none"/><path d="M1325.0,156.5 l2,-1.5" stroke="#fff" stroke-width="1" fill="none"/>
<path d="M1278.3,120.5 C1277.9,122.8 1275.5,128.9 1275.7,134.3 C1275.9,139.7 1278.3,147.3 1279.6,152.8 C1280.9,158.3 1282.5,162.6 1283.6,167.4 C1284.7,172.2 1285.2,177.7 1286.2,181.9 C1287.2,186.1 1288.8,187.4 1289.5,192.5 C1290.2,197.6 1290.3,205.5 1290.2,212.3 C1290.1,219.1 1289.1,229.9 1288.9,233.4 L1330,240 L1338.4,199.1 L1328.5,192.5 1320.6,193.8 L1312.7,183.2 L1306.0,166.0 L1298.1,151.5 L1292.8,138.3 L1286.2,126.4 L1279.6,121.1 Z" fill="#fff" stroke="none"/>
<path d="M1278.3,120.5 C1277.9,122.8 1275.5,128.9 1275.7,134.3 C1275.9,139.7 1278.3,147.3 1279.6,152.8 C1280.9,158.3 1282.5,162.6 1283.6,167.4 C1284.7,172.2 1285.2,177.7 1286.2,181.9 C1287.2,186.1 1288.8,187.4 1289.5,192.5 C1290.2,197.6 1290.3,205.5 1290.2,212.3 C1290.1,219.1 1289.1,229.9 1288.9,233.4" fill="none" stroke-width="1.5"/>
<path d="M1279.6,121.1 C1280.7,122.0 1284.0,123.5 1286.2,126.4 C1288.4,129.3 1290.8,134.1 1292.8,138.3 C1294.8,142.5 1295.9,146.9 1298.1,151.5 C1300.3,156.1 1303.6,160.7 1306.0,166.0 C1308.4,171.3 1310.3,178.6 1312.7,183.2 C1315.1,187.8 1319.3,192.0 1320.6,193.8" fill="none" stroke-width="1.5"/>
<path d="M1320.6,193.8 Q1324,191.5 1328.5,192.5 Q1335,194 1338.4,199.1" fill="none" stroke-width="1.5"/>
<ellipse cx="1284.4" cy="131.7" rx="4.6" ry="6" transform="rotate(-30 1284.4 131.7)" stroke-width="1.3"/>
<path d="M1286.2,189.8 C1284.0,190.9 1275.4,193.8 1273.0,196.4 C1270.6,199.1 1271.2,201.9 1271.7,205.7 C1272.2,209.4 1273.4,214.9 1275.7,218.9 C1278.0,222.9 1283.9,227.7 1285.6,229.5" fill="none" stroke-width="1.5"/>
<path d="M1260.5,229.5 C1261.5,227.7 1264.3,221.3 1266.4,218.9 C1268.5,216.5 1271.9,215.6 1273.0,214.9" fill="none" stroke-width="1.5"/>
<path d="M1275.7,204.4 Q1282,204.5 1287.6,205.7" fill="none" stroke-width="1.3"/>
</g>
<g transform="translate(-1068.5,737)"><g fill="#fff" stroke="#111" stroke-width="1.5" stroke-linejoin="round">
<path d="M1154.7,112 H1179 M1336,113.5 H1355.6" fill="none" stroke-width="1.4"/>
<path d="M1154.7,146 H1179 M1336,143.5 H1355.6" fill="none" stroke-width="2.4"/>
<path d="M1180,168.7 L1178.5,166 V146 L1181.3,146 V112 L1178,112 V92.7 L1192.7,88 H1200 V168.7 Z"/>
<path d="M1193.3,104.7 V88.3 L1329,91 Q1331.3,91.5 1331.3,94 V105.3 Z"/>
<path d="M1210.7,88.6 V105 M1227.3,89.0 V105 M1244.0,89.3 V105 M1260.0,89.6 V105 M1274.7,89.9 V105 M1289.3,90.2 V105 M1304.7,90.5 V105 M1319.3,90.8 V105" fill="none" stroke-width="1.3"/>
<circle cx="1202.7" cy="93.3" r="3.4" fill="#111" stroke="none"/><path d="M1201.7,93.8 l2,-1.5" stroke="#fff" stroke-width="1" fill="none"/>
<circle cx="1219.3" cy="93.3" r="3.4" fill="#111" stroke="none"/><path d="M1218.3,93.8 l2,-1.5" stroke="#fff" stroke-width="1" fill="none"/>
<circle cx="1235.3" cy="94.0" r="3.4" fill="#111" stroke="none"/><path d="M1234.3,94.5 l2,-1.5" stroke="#fff" stroke-width="1" fill="none"/>
<circle cx="1251.3" cy="94.0" r="3.4" fill="#111" stroke="none"/><path d="M1250.3,94.5 l2,-1.5" stroke="#fff" stroke-width="1" fill="none"/>
<circle cx="1265.3" cy="94.7" r="3.4" fill="#111" stroke="none"/><path d="M1264.3,95.2 l2,-1.5" stroke="#fff" stroke-width="1" fill="none"/>
<circle cx="1279.3" cy="95.3" r="3.4" fill="#111" stroke="none"/><path d="M1278.3,95.8 l2,-1.5" stroke="#fff" stroke-width="1" fill="none"/>
<circle cx="1295.3" cy="95.7" r="3.4" fill="#111" stroke="none"/><path d="M1294.3,96.2 l2,-1.5" stroke="#fff" stroke-width="1" fill="none"/>
<circle cx="1310.7" cy="96.0" r="3.4" fill="#111" stroke="none"/><path d="M1309.7,96.5 l2,-1.5" stroke="#fff" stroke-width="1" fill="none"/>
<circle cx="1324.0" cy="96.7" r="3.4" fill="#111" stroke="none"/><path d="M1323.0,97.2 l2,-1.5" stroke="#fff" stroke-width="1" fill="none"/>
<rect x="1199" y="104.5" width="137.7" height="43.5"/>
<path d="M1215.3,104.7 V148 M1232.0,104.7 V148 M1248.7,104.7 V148 M1264.7,104.7 V148 M1279.3,104.7 V148 M1294.7,104.7 V148 M1310.0,104.7 V148 M1325.3,104.7 V148" fill="none" stroke-width="1.3"/>
<path d="M1200.7,115.3 H1215.8 Q1217.3,124 1215.8,132.7 H1200.7 Q1202.2,124 1200.7,115.3 Z" fill="#111" stroke="none"/>
<path d="M1203.2,117 Q1204.7,124 1203.2,131" stroke="#888" stroke-width="0.8" fill="none"/>
<path d="M1216.5,115.3 H1232.5 Q1234.0,124 1232.5,132.7 H1216.5 Q1218.0,124 1216.5,115.3 Z" fill="#111" stroke="none"/>
<path d="M1219.0,117 Q1220.5,124 1219.0,131" stroke="#888" stroke-width="0.8" fill="none"/>
<path d="M1233.2,115.3 H1249.2 Q1250.7,124 1249.2,132.7 H1233.2 Q1234.7,124 1233.2,115.3 Z" fill="#111" stroke="none"/>
<path d="M1235.7,117 Q1237.2,124 1235.7,131" stroke="#888" stroke-width="0.8" fill="none"/>
<path d="M1249.9,115.3 H1265.2 Q1266.7,124 1265.2,132.7 H1249.9 Q1251.4,124 1249.9,115.3 Z" fill="#111" stroke="none"/>
<path d="M1252.4,117 Q1253.9,124 1252.4,131" stroke="#888" stroke-width="0.8" fill="none"/>
<path d="M1265.9,115.3 H1279.8 Q1281.3,124 1279.8,132.7 H1265.9 Q1267.4,124 1265.9,115.3 Z" fill="#111" stroke="none"/>
<path d="M1268.4,117 Q1269.9,124 1268.4,131" stroke="#888" stroke-width="0.8" fill="none"/>
<path d="M1280.5,115.3 H1295.2 Q1296.7,124 1295.2,132.7 H1280.5 Q1282.0,124 1280.5,115.3 Z" fill="#111" stroke="none"/>
<path d="M1283.0,117 Q1284.5,124 1283.0,131" stroke="#888" stroke-width="0.8" fill="none"/>
<path d="M1295.9,115.3 H1310.5 Q1312.0,124 1310.5,132.7 H1295.9 Q1297.4,124 1295.9,115.3 Z" fill="#111" stroke="none"/>
<path d="M1298.4,117 Q1299.9,124 1298.4,131" stroke="#888" stroke-width="0.8" fill="none"/>
<path d="M1311.2,115.3 H1325.8 Q1327.3,124 1325.8,132.7 H1311.2 Q1312.7,124 1311.2,115.3 Z" fill="#111" stroke="none"/>
<path d="M1313.7,117 Q1315.2,124 1313.7,131" stroke="#888" stroke-width="0.8" fill="none"/>
<path d="M1326.5,115.3 H1340.5 Q1342.0,124 1340.5,132.7 H1326.5 Q1328.0,124 1326.5,115.3 Z" fill="#111" stroke="none"/>
<path d="M1329.0,117 Q1330.5,124 1329.0,131" stroke="#888" stroke-width="0.8" fill="none"/>
<path d="M1195.3,148 V168.7 L1332.7,165.3 V148 Z"/>
<path d="M1210.7,148 V168.3 M1227.3,148 V167.9 M1244.0,148 V167.5 M1260.0,148 V167.1 M1275.3,148 V166.7 M1290.0,148 V166.4 M1304.7,148 V166.0 M1319.3,148 V165.6" fill="none" stroke-width="1.3"/>
<path d="M1200.7,161.0 V168.5 H1207.3 V161.0" fill="#fff" stroke-width="1.1"/>
<circle cx="1204.0" cy="160.0" r="3.6" fill="#111" stroke="none"/><path d="M1203.0,160.5 l2,-1.5" stroke="#fff" stroke-width="1" fill="none"/>
<path d="M1216.0,161.0 V168.5 H1222.6 V161.0" fill="#fff" stroke-width="1.1"/>
<circle cx="1219.3" cy="160.0" r="3.6" fill="#111" stroke="none"/><path d="M1218.3,160.5 l2,-1.5" stroke="#fff" stroke-width="1" fill="none"/>
<path d="M1232.7,160.3 V167.8 H1239.3 V160.3" fill="#fff" stroke-width="1.1"/>
<circle cx="1236.0" cy="159.3" r="3.6" fill="#111" stroke="none"/><path d="M1235.0,159.8 l2,-1.5" stroke="#fff" stroke-width="1" fill="none"/>
<path d="M1248.7,159.7 V167.2 H1255.3 V159.7" fill="#fff" stroke-width="1.1"/>
<circle cx="1252.0" cy="158.7" r="3.6" fill="#111" stroke="none"/><path d="M1251.0,159.2 l2,-1.5" stroke="#fff" stroke-width="1" fill="none"/>
<path d="M1264.7,159.0 V166.5 H1271.3 V159.0" fill="#fff" stroke-width="1.1"/>
<circle cx="1268.0" cy="158.0" r="3.6" fill="#111" stroke="none"/><path d="M1267.0,158.5 l2,-1.5" stroke="#fff" stroke-width="1" fill="none"/>
<path d="M1279.7,158.5 V166.0 H1286.3 V158.5" fill="#fff" stroke-width="1.1"/>
<circle cx="1283.0" cy="157.5" r="3.6" fill="#111" stroke="none"/><path d="M1282.0,158.0 l2,-1.5" stroke="#fff" stroke-width="1" fill="none"/>
<path d="M1293.7,158.0 V165.5 H1300.3 V158.0" fill="#fff" stroke-width="1.1"/>
<circle cx="1297.0" cy="157.0" r="3.6" fill="#111" stroke="none"/><path d="M1296.0,157.5 l2,-1.5" stroke="#fff" stroke-width="1" fill="none"/>
<path d="M1308.0,157.7 V165.2 H1314.6 V157.7" fill="#fff" stroke-width="1.1"/>
<circle cx="1311.3" cy="156.7" r="3.6" fill="#111" stroke="none"/><path d="M1310.3,157.2 l2,-1.5" stroke="#fff" stroke-width="1" fill="none"/>
<path d="M1322.7,157.0 V164.5 H1329.3 V157.0" fill="#fff" stroke-width="1.1"/>
<circle cx="1326.0" cy="156.0" r="3.6" fill="#111" stroke="none"/><path d="M1325.0,156.5 l2,-1.5" stroke="#fff" stroke-width="1" fill="none"/>
</g></g>
<g fill="#fff" stroke="#111" stroke-width="1.5" stroke-linejoin="round" stroke-linecap="round">
<path d="M207.0,859.8 C206.9,861.2 206.1,864.7 206.5,868.0 C206.9,871.3 208.3,874.6 209.6,879.6 C210.8,884.6 212.4,891.4 214.0,898.0 C215.6,904.6 217.9,912.5 218.9,919.3 C219.9,926.1 220.2,931.5 220.2,939.0 C220.2,946.5 219.1,960.0 218.9,964.2 L236,968 L271.7,932.5 L262.5,925.9 L253.2,927.2 L240.0,906.0 L232.0,889.0 L225.5,873.0 L214.9,857.2 Z" stroke="none"/>
<path d="M207.0,859.8 C206.9,861.2 206.1,864.7 206.5,868.0 C206.9,871.3 208.3,874.6 209.6,879.6 C210.8,884.6 212.4,891.4 214.0,898.0 C215.6,904.6 217.9,912.5 218.9,919.3 C219.9,926.1 220.2,931.5 220.2,939.0 C220.2,946.5 219.1,960.0 218.9,964.2" fill="none"/>
<path d="M207.0,859.8 C207.5,859.2 208.7,856.4 210.0,856.0 C211.3,855.6 214.1,857.0 214.9,857.2" fill="none"/>
<path d="M214.9,857.2 C216.7,859.8 222.7,867.7 225.5,873.0 C228.3,878.3 229.6,883.5 232.0,889.0 C234.4,894.5 236.5,899.6 240.0,906.0 C243.5,912.4 251.0,923.7 253.2,927.2" fill="none"/>
<path d="M253.2,927.2 Q257,924.5 262.5,925.9 Q268,928 271.7,932.5" fill="none"/>
<ellipse cx="213.5" cy="862.5" rx="4.8" ry="5.6" transform="rotate(-25 213.5 862.5)" stroke-width="1.3"/>
<path d="M220.2,923.2 C218.5,924.0 212.7,926.5 210.0,928.0 C207.3,929.5 205.1,930.2 204.3,932.5 C203.5,934.8 204.1,938.7 205.0,942.0 C205.9,945.3 207.3,948.6 209.6,952.3 C211.9,956.0 217.3,962.2 218.9,964.2" fill="none"/>
<path d="M192.5,964.2 C193.2,962.8 195.5,958.2 197.0,956.0 C198.5,953.8 200.0,952.1 201.7,951.0 C203.4,949.9 206.1,949.8 207.0,949.6" fill="none"/>
<path d="M208.3,938.4 Q214,939.5 220.2,940.4" fill="none" stroke-width="1.3"/>
</g>
<path d="M1382.4,101.5 Q1393,115 1392.5,139.7 Q1391,150 1386,158" fill="none" stroke="#111" stroke-width="1.5"/>
<path d="M1377.3,152.5 L1393.8,157.5 L1379.8,169 Z" fill="#111"/>
<path d="M320.2,907.7 Q326,885 322,868 Q319,860 314,852" fill="none" stroke="#111" stroke-width="1.5"/>
<path d="M311.3,864.4 L322.7,856.8 L306.2,839 Z" fill="#111"/>
<g fill="none" stroke="#111" stroke-width="1.5" stroke-linejoin="round" stroke-linecap="round">
<path d="M179.7,181.6 C180.3,181.4 181.1,180.9 183.1,180.2 C185.1,179.5 188.7,178.7 191.6,177.6 C194.5,176.5 196.3,173.8 200.7,173.4 C205.0,173.0 211.1,174.7 217.7,175.2 C224.3,175.7 235.6,175.7 240.3,176.3 C245.0,176.9 244.3,177.2 246.0,178.6 C247.7,180.0 248.6,181.8 250.5,184.8 C252.4,187.8 255.0,193.2 257.3,196.7 C259.6,200.2 261.2,202.1 264.1,205.8 C267.1,209.5 270.0,213.6 275.0,218.8 C280.0,224.1 287.1,231.6 294.0,237.3 C300.9,243.1 312.9,250.6 316.7,253.3" fill="none" stroke-width="1.5"/>
<path d="M272.7,222.7 C276.4,225.2 287.7,233.1 295.0,238.0 C302.3,242.9 313.1,249.7 316.7,252.0" fill="none" stroke-width="1.2"/>
<path d="M186.0,221.8 C188.2,222.8 195.5,225.3 199.0,228.0 C202.5,230.7 203.4,234.7 207.0,238.0 C210.6,241.3 216.9,245.7 220.7,248.0 C224.5,250.3 225.1,251.1 230.0,252.0 C234.9,252.9 243.3,251.8 250.0,253.3 C256.7,254.9 264.4,258.0 270.0,261.3 C275.6,264.6 279.5,269.1 283.3,273.3 C287.1,277.5 291.1,284.5 292.7,286.7" fill="none" stroke-width="1.5"/>
<path d="M179.7,181.6 C179.6,182.1 179.6,183.7 179.2,184.4 C178.7,185.2 177.8,185.5 176.9,186.1 C176.0,186.8 174.3,187.6 173.5,188.4 C172.8,189.1 172.4,189.9 172.4,190.7 C172.4,191.4 173.3,192.5 173.5,192.9" fill="none" stroke-width="1.5"/>
<path d="M174.6,190.7 L180.9,185.6 L182.0,187.8 L175.8,190.7 Z" fill="none" stroke-width="1.3"/>
<path d="M158.8,183.3 L173.5,179.9 L176.9,185.0 L174.1,188.4 L166.7,193.5 Z" fill="none" stroke-width="1.4"/>
<path d="M139.5,198.9 L154.8,197.4 L162.2,194.6 L164.4,197.4 L162.7,208.2 L146.3,207.6 L145.2,203.1 L139.5,200.8 Z" fill="#111" stroke-width="1.2"/>
<path d="M149.2,202.0 L157.7,201.7 L159.3,204.8 L150.9,204.8 Z" fill="#fff" stroke-width="0.1"/>
<path d="M162.2,194.6 C164.6,193.3 171.1,194.3 174.6,194.2 C178.1,194.1 181.0,193.4 183.1,194.0 C185.3,194.7 186.9,196.7 187.7,198.0 C188.5,199.3 188.2,200.6 187.9,202.0 C187.7,203.4 187.2,205.5 186.0,206.5 C184.7,207.5 183.1,207.5 180.3,207.9 C177.5,208.3 172.0,208.8 169.0,208.8 C166.0,208.7 163.7,208.8 162.2,207.6 C160.7,206.5 159.9,204.1 159.9,202.0 C159.9,199.8 159.7,195.9 162.2,194.6Z" fill="#fff" stroke-width="1.6"/>
<path d="M186.0,197.4 C186.3,198.0 188.1,199.6 188.2,200.8 C188.3,202.1 186.8,204.1 186.5,204.8" fill="none" stroke-width="1.2"/>
<path d="M186.0,194.6 C186.9,194.9 190.3,195.2 191.6,196.3 C192.9,197.4 193.8,199.7 193.9,201.4 C194.0,203.1 193.2,205.5 192.2,206.5 C191.2,207.5 188.4,207.4 187.7,207.6" fill="none" stroke-width="1.5"/>
<path d="M187.7,192.3 C188.8,192.7 192.9,193.1 194.5,194.6 C196.1,196.1 197.2,199.2 197.3,201.4 C197.4,203.6 196.2,206.4 195.0,207.6 C193.8,208.9 190.8,208.6 189.9,208.8" fill="none" stroke-width="1.4"/>
<path d="M191.6,192.3 C192.7,192.5 196.3,192.6 197.9,193.5 C199.4,194.3 200.4,195.7 200.7,197.4 C201.0,199.2 200.1,202.4 199.6,204.2 C199.0,206.1 197.7,208.0 197.3,208.8" fill="none" stroke-width="1.3"/>
<path d="M188.8,187.3 C188.8,187.7 189.0,189.6 189.1,190.1" fill="none" stroke-width="1.3"/>
<path d="M205.2,183.1 C204.8,183.8 204.6,186.0 202.9,187.1 C201.2,188.2 196.3,189.4 195.0,189.9" fill="none" stroke-width="1.3"/>
<path d="M195.0,194.4 C196.7,193.5 200.5,188.8 205.2,188.8 C209.9,188.8 219.0,194.0 223.3,194.4 C227.7,194.9 229.9,192.1 231.2,191.6" fill="none" stroke-width="1.4"/>
<path d="M200.7,197.3 C202.1,196.5 205.0,192.6 209.2,192.7 C213.3,192.9 222.8,197.5 225.6,198.4" fill="none" stroke-width="1.3"/>
<path d="M238.0,192.2 C236.7,194.2 232.8,200.2 230.1,204.1 C227.5,207.9 223.5,213.5 222.2,215.4" fill="none" stroke-width="1.5"/>
<path d="M222.2,215.4 C223.2,214.9 227.4,213.0 228.4,212.6" fill="none" stroke-width="1.3"/>
<path d="M200.7,197.3 C200.6,198.3 200.7,201.3 200.1,203.5 C199.5,205.7 197.7,209.2 197.3,210.3" fill="none" stroke-width="1.4"/>
<path d="M195.0,210.9 C195.8,211.2 195.6,212.2 199.5,213.1 C203.5,214.1 213.4,215.2 218.8,216.5 C224.2,217.9 229.6,220.3 231.8,221.1" fill="none" stroke-width="1.5"/>
<path d="M160.5,223.5 L161.6,217.8 L166.7,211.0 L175.8,210.5 L173.5,223.5 Z" fill="none" stroke-width="1.4"/>
<path d="M179.7,212.2 C181.1,211.1 185.7,211.2 187.1,211.6 C188.5,212.0 188.4,213.2 188.2,214.4 C188.0,215.7 187.5,218.4 186.0,219.0 C184.5,219.5 180.2,219.0 179.2,217.8 C178.1,216.7 178.4,213.2 179.7,212.2Z" fill="none" stroke-width="1.3"/>
<path d="M176.9,212.2 C177.1,213.1 176.5,216.2 178.0,217.8 C179.5,219.4 182.5,220.1 186.0,221.8 C189.5,223.5 195.6,226.2 199.0,228.0 C202.3,229.9 203.8,231.3 206.0,233.0 C208.2,234.7 211.0,237.2 212.0,238.0" fill="none" stroke-width="1.5"/>
<path d="M195.0,211.0 C195.9,211.5 196.8,213.0 200.1,213.9 C203.5,214.7 212.5,215.8 215.0,216.1" fill="none" stroke-width="1.3"/>
<path d="M173.2,362.6 C173.4,362.1 173.3,361.5 174.6,359.8 C175.9,358.1 178.2,354.4 181.0,352.7 C183.8,351.0 188.1,351.3 191.6,349.9 C195.1,348.5 199.2,345.1 202.2,344.2 C205.1,343.2 203.8,343.8 209.3,344.2 C214.8,344.6 228.6,345.5 235.0,346.3 C241.4,347.1 244.4,347.3 247.8,348.9 C251.2,350.5 252.5,351.5 255.3,355.7 C258.1,359.9 261.4,368.5 264.4,373.8 C267.4,379.1 268.1,381.6 273.4,387.4 C278.7,393.2 287.4,401.7 296.0,408.5 C304.6,415.3 319.9,424.8 324.7,428.1" fill="none" stroke-width="1.5"/>
<path d="M278.7,395.7 C282.2,398.2 292.3,405.5 300.0,411.0 C307.7,416.5 320.6,425.9 324.7,428.9" fill="none" stroke-width="1.2"/>
<path d="M216.4,410.0 C218.1,412.3 219.6,420.3 226.6,423.6 C233.6,426.9 249.7,426.6 258.3,429.6 C266.9,432.6 271.2,436.2 278.0,441.7 C284.8,447.2 295.5,459.3 299.0,462.8" fill="none" stroke-width="1.5"/>
<path d="M173.2,362.6 C173.2,363.0 172.5,364.1 173.2,364.7 C173.9,365.3 176.8,365.9 177.5,366.1" fill="none" stroke-width="1.4"/>
<path d="M174.6,361.9 C175.7,361.3 179.9,359.7 181.0,358.4 C182.1,357.1 181.0,354.8 181.0,354.1" fill="none" stroke-width="1.3"/>
<path d="M143.5,371.8 L164.7,369.7 L168.3,374.6 L165.4,380.3 L149.2,378.2 L144.2,374.6 Z" fill="#111" stroke-width="1.2"/>
<path d="M152.7,374.6 L163.3,374.6 L164.7,377.5 L154.1,377.5 Z" fill="#fff" stroke-width="0.1"/>
<path d="M164.7,366.8 C168.4,365.4 183.4,365.5 188.1,366.1 C192.8,366.7 192.0,369.0 193.0,370.4 C194.1,371.8 194.7,373.2 194.4,374.6 C194.2,376.0 193.3,377.8 191.6,378.9 C190.0,379.9 188.1,380.5 184.5,381.0 C181.0,381.5 173.5,382.8 170.4,381.7 C167.3,380.6 167.1,377.1 166.1,374.6 C165.2,372.2 161.1,368.3 164.7,366.8Z" fill="#fff" stroke-width="1.6"/>
<path d="M190.2,359.1 C190.2,359.5 190.2,361.4 190.2,361.9" fill="none" stroke-width="1.3"/>
<path d="M207.2,354.8 C206.8,355.6 206.7,358.6 205.1,359.8 C203.4,360.9 199.8,361.5 197.3,361.9 C194.8,362.2 191.4,361.9 190.2,361.9" fill="none" stroke-width="1.3"/>
<path d="M198.7,367.6 C200.6,366.8 208.1,364.0 210.0,363.3" fill="none" stroke-width="1.3"/>
<path d="M201.5,370.4 C203.2,369.7 206.8,366.0 211.4,366.1 C216.0,366.3 226.2,370.3 229.1,371.1" fill="none" stroke-width="1.3"/>
<path d="M235.0,363.3 C234.3,363.9 234.7,366.8 230.5,366.8 C226.4,366.8 213.4,363.9 210.0,363.3" fill="none" stroke-width="1.3"/>
<path d="M201.5,370.4 C201.8,371.6 203.4,375.1 202.9,377.5 C202.5,379.8 199.4,383.4 198.7,384.5" fill="none" stroke-width="1.4"/>
<path d="M235.0,371.8 C234.1,373.2 231.4,377.5 229.8,380.3 C228.3,383.1 226.3,387.4 225.6,388.8" fill="none" stroke-width="1.5"/>
<path d="M225.6,388.8 C226.6,388.2 230.9,385.8 232.0,385.2" fill="none" stroke-width="1.3"/>
<path d="M190.2,381.0 C191.6,381.6 196.7,383.6 198.7,384.5 C200.7,385.5 199.9,386.1 202.2,386.7 C204.6,387.3 207.4,386.9 212.8,388.1 C218.3,389.3 231.3,392.8 235.0,393.7" fill="none" stroke-width="1.5"/>
<path d="M178.9,384.5 C180.3,383.5 185.6,383.4 187.4,383.8 C189.1,384.3 189.5,386.1 189.5,387.4 C189.5,388.7 189.1,391.1 187.4,391.6 C185.6,392.1 180.3,391.4 178.9,390.2 C177.5,389.0 177.5,385.6 178.9,384.5Z" fill="none" stroke-width="1.3"/>
<path d="M177.5,384.5 C177.6,385.5 175.8,388.7 178.2,390.2 C180.5,391.7 187.0,391.7 191.6,393.7 C196.2,395.7 201.6,399.5 205.8,402.2 C209.9,404.9 214.6,408.7 216.4,410.0" fill="none" stroke-width="1.5"/>
</g>
<g fill="none" stroke-linejoin="round">
<path d="M458.4,972.3 V1011.6 M458.4,973.6 L508.7,1011.6 M601.2,979.7 V1011.6 M600.6,980.9 L538.1,1011.6" stroke="#c83ec8" stroke-width="1.8"/>
<path d="M535.6,917.2 L457.8,958.9 L520.9,1005.4 L600.6,966.2 Z" stroke="#111" stroke-width="1.7"/>
<path d="M457.8,958.9 V972.3 M600.6,966.2 V979.7 M520.9,1005.4 V1011.6" stroke="#111" stroke-width="1.7"/>
<path d="M482,962 A45.7,25.5 0 0 1 573.4,961" stroke="#111" stroke-width="1.4"/>
<path d="M482,962 A45.7,22.0 0 0 1 573.4,961" stroke="#111" stroke-width="1.4"/>
<path d="M482,962 A45.7,18.0 0 0 1 573.4,961" stroke="#111" stroke-width="1.4"/>
<rect x="512.3" y="930" width="12.3" height="17" fill="#fff" stroke="none"/>
<ellipse cx="527.7" cy="961.9" rx="46" ry="28.8" stroke="#111" stroke-width="1.5"/>
</g><g style="mix-blend-mode:multiply"><!-- check and cross -->
<g stroke="#f005f0" stroke-width="6.5" fill="none" stroke-linecap="butt">
<path d="M155,225 L208.5,272 L313,156"/>
<path d="M142,345 L298.3,481.5 M298.3,345 L140.5,482"/>
</g><!-- watermark -->
<text x="512" y="544.7" font-family="Liberation Sans" font-weight="bold" font-size="55" fill="#e1d9d6" style="font-family:'Liberation Sans',sans-serif">www.svetodom.ru</text>

</g></svg>
</body></html>
